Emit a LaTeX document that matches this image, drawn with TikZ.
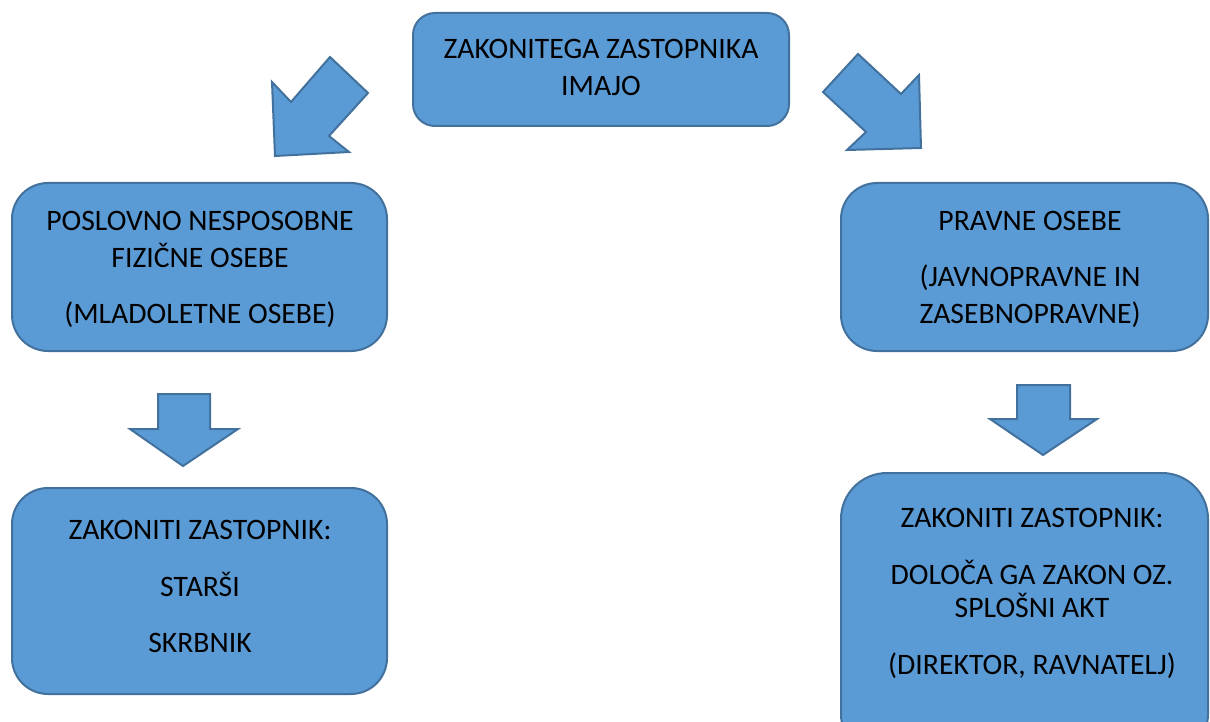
\documentclass[tikz,border=0pt]{standalone}
\usepackage{fontspec}
\setmainfont{Carlito}
\definecolor{boxfill}{HTML}{5B9BD5}
\definecolor{boxline}{HTML}{41719C}
\begin{document}
\begin{tikzpicture}[x=1pt,y=-1pt,
  box/.style={draw=boxline,fill=boxfill,line width=2pt},
  blockarrow/.style={draw=boxline,fill=boxfill,line width=2pt,line join=miter},
  txt/.style={inner sep=0pt,anchor=base,font=\fontsize{29.7}{34}\selectfont,text=black}]
\useasboundingbox (0,0) rectangle (1210,722);
% boxes
\draw[box,rounded corners=22pt] (413,13) rectangle (789,126);
\draw[box,rounded corners=36pt] (12,183) rectangle (387,351);
\draw[box,rounded corners=36pt] (841,183) rectangle (1208,351);
\draw[box,rounded corners=36pt] (12,488) rectangle (387,694);
\draw[box,rounded corners=46pt] (841,473) rectangle (1208,760);
% arrows
\draw[blockarrow] (272,82) -- (291,102) -- (330,57) -- (368,93) -- (329,136) -- (349,152) -- (275,156) -- cycle;
\draw[blockarrow] (823,92) -- (858,54) -- (901,94) -- (919,75) -- (921,148) -- (847,150) -- (866,132) -- cycle;
\draw[blockarrow] (158,394) -- (210,394) -- (210,429) -- (238,429) -- (183,466) -- (130,429) -- (158,429) -- cycle;
\draw[blockarrow] (1017,385) -- (1070,385) -- (1070,419) -- (1097,419) -- (1043,455) -- (990,419) -- (1017,419) -- cycle;
% texts
\node[txt] (t1) at (601,59) {ZAKONITEGA ZASTOPNIKA};
\node[txt] (t2) at (601,96) {IMAJO};
\node[txt] (a1) at (200,230) {POSLOVNO NESPOSOBNE};
\node[txt] (a2) at (200,267) {FIZIČNE OSEBE};
\node[txt] (a3) at (200,323) {(MLADOLETNE OSEBE)};
\node[txt] (b1) at (1030,230) {PRAVNE OSEBE};
\node[txt] (b2) at (1030,286) {(JAVNOPRAVNE IN};
\node[txt] (b3) at (1030,323) {ZASEBNOPRAVNE)};
\node[txt] (c1) at (200,539) {ZAKONITI ZASTOPNIK:};
\node[txt] (c2) at (200,596) {STARŠI};
\node[txt] (c3) at (200,652) {SKRBNIK};
\node[txt] (d1) at (1032,527) {ZAKONITI ZASTOPNIK:};
\node[txt] (d2) at (1032,584) {DOLOČA GA ZAKON OZ.};
\node[txt] (d3) at (1032,617) {SPLOŠNI AKT};
\node[txt] (d4) at (1032,674) {(DIREKTOR, RAVNATELJ)};
\end{tikzpicture}
\end{document}
